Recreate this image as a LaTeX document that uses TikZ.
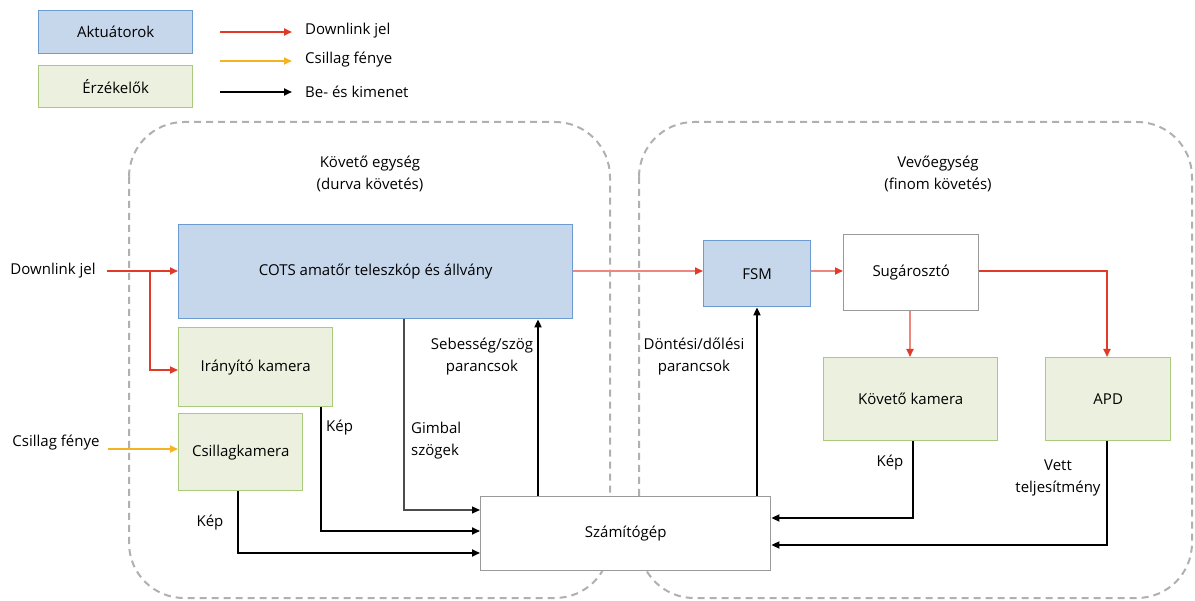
\documentclass[tikz,border=0pt]{standalone}
\usepackage{fontspec}
\setmainfont{Open Sans}
\usetikzlibrary{arrows.meta}
\definecolor{actfill}{HTML}{C6D7EB}
\definecolor{actdraw}{HTML}{6C9BD2}
\definecolor{senfill}{HTML}{EBF1DE}
\definecolor{sendraw}{HTML}{A9C97C}
\definecolor{sig}{HTML}{E23A28}
\definecolor{sigsoft}{HTML}{EF8780}
\definecolor{starlight}{HTML}{F5B324}
\definecolor{unitline}{HTML}{B0B0B0}
\definecolor{plaindraw}{HTML}{9A9A9A}

\begin{document}
\begin{tikzpicture}[x=1pt,y=-1pt,
  font=\fontsize{15}{22}\selectfont,
  blk/.style={draw, line width=1.4pt, anchor=north west, inner sep=0pt, align=center},
  act/.style={blk, fill=actfill, draw=actdraw},
  sens/.style={blk, fill=senfill, draw=sendraw},
  plain/.style={blk, fill=white, draw=plaindraw},
  lbl/.style={inner sep=0pt, align=center},
  dl/.style={-{Triangle[length=8pt,width=7pt]}, draw=sig, line width=1.8pt},
  dlsoft/.style={-{Triangle[length=8pt,width=7pt,color=sig]}, draw=sigsoft, line width=1.8pt},
  sl/.style={-{Triangle[length=8pt,width=7pt]}, draw=starlight, line width=1.8pt},
  io/.style={-{Triangle[length=8pt,width=7pt]}, draw=black, line width=1.8pt},
  iothin/.style={-{Triangle[length=8pt,width=7pt,color=black]}, draw=black!70, line width=1.2pt},
  unit/.style={draw=unitline, line width=2pt, dash pattern=on 7pt off 5pt, rounded corners=55pt}
]
\useasboundingbox (0,0) rectangle (1195,601);

% ---- dashed unit outlines
\draw[unit] (129,122) rectangle (610,598);
\draw[unit] (639,122) rectangle (1192,598);
\node[lbl] (tu) at (370,174) {Követő egység\\(durva követés)};
\node[lbl] (ru) at (938,174) {Vevőegység\\(finom követés)};

% ---- legend
\node[act, minimum width=154pt, minimum height=43pt] (lgact) at (38,10) {Aktuátorok};
\node[sens, minimum width=154pt, minimum height=42pt] (lgsen) at (38,65) {Érzékelők};
\coordinate (la1) at (220,32);  \coordinate (lb1) at (292,32);
\coordinate (la2) at (220,61);  \coordinate (lb2) at (292,61);
\coordinate (la3) at (220,92);  \coordinate (lb3) at (292,92);
\draw[dl] (la1) -- (lb1);
\draw[sl] (la2) -- (lb2);
\draw[io] (la3) -- (lb3);
\node[lbl, anchor=west] (lt1) at (305,31) {Downlink jel};
\node[lbl, anchor=west] (lt2) at (305,60) {Csillag fénye};
\node[lbl, anchor=west] (lt3) at (305,92) {Be- és kimenet};

% ---- blocks
\node[act, minimum width=394pt, minimum height=94pt] (cots) at (178,224) {COTS amatőr teleszkóp és állvány};
\node[sens, minimum width=154pt, minimum height=79pt] (irany) at (178,327) {Irányító kamera};
\node[sens, minimum width=124pt, minimum height=77pt] (csk) at (178,413) {Csillagkamera};
\node[plain, minimum width=290pt, minimum height=74pt] (pc) at (480,496) {Számítógép};
\node[act, minimum width=107pt, minimum height=66pt] (fsm) at (703,240) {FSM};
\node[plain, minimum width=135pt, minimum height=76pt] (bs) at (843,234) {Sugárosztó};
\node[sens, minimum width=174pt, minimum height=83pt] (kk) at (823,357) {Követő kamera};
\node[sens, minimum width=125pt, minimum height=83pt] (apd) at (1045,357) {APD};

% ---- inputs from outside
\node[lbl] (dlin) at (53,271) {Downlink jel};
\node[lbl] (slin) at (56,443) {Csillag fénye};
\coordinate (dls) at (107,271);
\coordinate (sls) at (108,449);
\coordinate (br) at (150,271);
\draw[dl] (dls) -- (cots.west |- dls);
\draw[dl] (br) |- (irany.west |- 0,370);
\draw[sl] (sls) -- (csk.west |- sls);

% ---- optical path
\draw[dlsoft] (cots.east |- 0,271) -- (fsm.west |- 0,271);
\draw[dlsoft] (fsm.east |- 0,271) -- (bs.west |- 0,271);
\coordinate (xkk) at (910,0);
\coordinate (xapd) at (1107,0);
\draw[dlsoft] (bs.south -| xkk) -- (kk.north -| xkk);
\draw[dl] (bs.east |- 0,271) -| (apd.north -| xapd);

% ---- data lines
\coordinate (xg) at (404,0);
\coordinate (xi) at (321,0);
\coordinate (xc) at (238,0);
\coordinate (xs) at (538,0);
\coordinate (xf) at (757,0);
\coordinate (xk) at (913,0);
\draw[iothin] (cots.south -| xg) |- (pc.west |- 0,510);
\draw[io] (irany.south -| xi) |- (pc.west |- 0,531);
\draw[io] (csk.south -| xc) |- (pc.west |- 0,553);
\draw[io] (pc.north -| xs) -- (cots.south -| xs);
\draw[io] (pc.north -| xf) -- (fsm.south -| xf);
\draw[io] (kk.south -| xk) |- (pc.east |- 0,518);
\draw[io] (apd.south -| xapd) |- (pc.east |- 0,545);

% ---- line labels
\node[lbl, anchor=west, align=left] (lgim) at (411,441) {Gimbal\\szögek};
\node[lbl, anchor=west] (lk1) at (326,428) {Kép};
\node[lbl] (lk2) at (210,523) {Kép};
\node[lbl] (lseb) at (482,357) {Sebesség/szög\\parancsok};
\node[lbl] (ldon) at (694,357) {Döntési/dőlési\\parancsok};
\node[lbl] (lk3) at (890,463) {Kép};
\node[lbl] (lvett) at (1058,478) {Vett\\teljesítmény};
\end{tikzpicture}
\end{document}
